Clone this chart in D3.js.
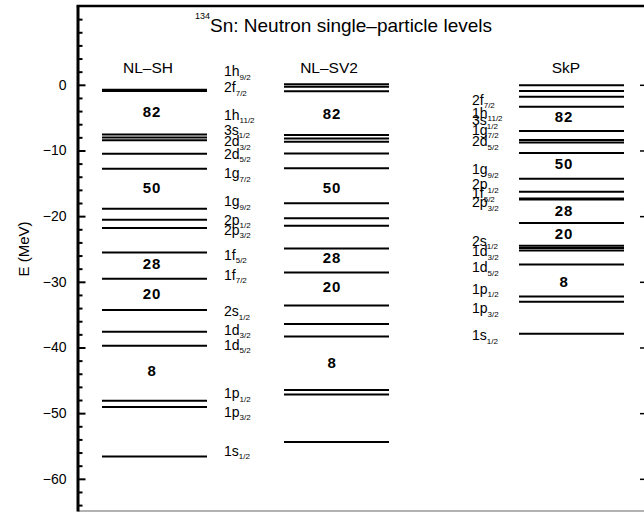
<!DOCTYPE html>
<html>
<head>
<meta charset="utf-8">
<script src="https://cdn.jsdelivr.net/npm/d3@7"></script>
<style>
  body { margin: 0; background: #fff; }
  svg { display: block; }
  text { font-family: "Liberation Sans", Arial, Helvetica, sans-serif; fill: #000; }
</style>
</head>
<body>
<svg id="chart" width="644" height="512"></svg>
<script>
// ---- data: neutron single-particle energies (MeV) of 134Sn ----
const models = ["NL–SH", "NL–SV2", "SkP"];
const magicNumbers = ["82", "50", "28", "20", "8"];
const majorTicks = [0, -10, -20, -30, -40, -50, -60];

const nlshOrbits = ["1h9/2","2f7/2","1h11/2","3s1/2","2d3/2","2d5/2","1g7/2","1g9/2","2p1/2","2p3/2","1f5/2","1f7/2","2s1/2","1d3/2","1d5/2","1p1/2","1p3/2","1s1/2"];
const nlshEnergies = [-0.75,-0.95,-7.55,-8.01,-8.44,-10.51,-12.79,-18.88,-20.56,-21.82,-25.54,-29.54,-34.31,-37.61,-39.74,-48.12,-49.08,-56.60];

const nlsv2Orbits = ["1h9/2","3p3/2","2f7/2","1h11/2","3s1/2","2d3/2","2d5/2","1g7/2","1g9/2","2p1/2","2p3/2","1f5/2","1f7/2","2s1/2","1d3/2","1d5/2","1p1/2","1p3/2","1s1/2"];
const nlsv2Energies = [0.09,-0.29,-0.99,-7.64,-8.16,-8.68,-10.46,-12.71,-18.04,-20.33,-21.47,-24.94,-28.58,-33.61,-36.44,-38.33,-46.49,-47.16,-54.41];

const skpOrbits = ["1h9/2","3p1/2","3p3/2","2f7/2","1h11/2","3s1/2","1g7/2","2d5/2","1g9/2","2p1/2","1f5/2","2p3/2","1f7/2","2s1/2","2d3/2","1d3/2","1d5/2","1p1/2","1p3/2","1s1/2"];
const skpEnergies = [-0.05,-0.96,-1.83,-3.35,-7.05,-8.42,-8.79,-10.40,-14.31,-16.29,-17.30,-17.45,-21.06,-24.52,-24.87,-25.23,-27.36,-32.24,-33.04,-37.92];

// energies at which the shell-gap numbers are written
const nlshGapE  = [-4.20, -15.73, -27.25, -31.82, -43.64];
const nlsv2GapE = [-4.52, -15.73, -26.39, -30.80, -42.40];
const skpGapE   = [-4.92, -12.03, -19.29, -22.69, -30.10];

// orbital name tags (name, energy where the tag is written)
const leftTagNames = ["1h9/2","2f7/2","1h11/2","3s1/2","2d3/2","2d5/2","1g7/2","1g9/2","2p1/2","2p3/2","1f5/2","1f7/2","2s1/2","1d3/2","1d5/2","1p1/2","1p3/2","1s1/2"];
const leftTagE     = [2.03,-0.35,-4.57,-6.85,-8.63,-10.51,-13.45,-17.77,-20.56,-22.08,-25.89,-28.93,-34.52,-37.31,-39.59,-46.95,-49.75,-55.69];
const skpTagNames  = ["2f7/2","1h11/2","3s1/2","1g7/2","2d5/2","1g9/2","2p1/2","1f5/2","2p3/2","2s1/2","1d3/2","1d5/2","1p1/2","1p3/2","1s1/2"];
const skpTagE      = [-2.28,-4.26,-5.41,-6.85,-8.60,-12.85,-15.15,-16.49,-17.89,-23.75,-25.35,-27.79,-31.06,-34.03,-38.15];

// ---- layout ----
const svg = d3.select("#chart");
const axisX = 77.5, rightX = 648;
const y = d3.scaleLinear().domain([-64.9, 12]).range([511, 6]);

const colLeft = d3.scaleOrdinal().domain(models).range([102, 284, 519]);
const colWidth = 105;
const headerX = d3.scaleOrdinal().domain(models).range([148, 329, 566]);
const gapX = d3.scaleOrdinal().domain(models).range([152, 332, 564]);

const sets = [
  { model: "NL–SH",  orbits: nlshOrbits,  energies: nlshEnergies,  gaps: nlshGapE },
  { model: "NL–SV2", orbits: nlsv2Orbits, energies: nlsv2Energies, gaps: nlsv2GapE },
  { model: "SkP",    orbits: skpOrbits,   energies: skpEnergies,   gaps: skpGapE }
];

// frame
svg.append("line").attr("x1", axisX - 1).attr("x2", 660).attr("y1", 6).attr("y2", 6)
  .attr("stroke", "#000").attr("stroke-width", 2.5);
svg.append("line").attr("x1", axisX).attr("x2", 660).attr("y1", 511).attr("y2", 511)
  .attr("stroke", "#666").attr("stroke-width", 1.2);

// minor ticks every 2 MeV
const minorTicks = d3.range(-64, 11, 2).filter(v => !majorTicks.includes(v));
const leftMinor = svg.append("g").attr("transform", `translate(${axisX},0)`)
  .call(d3.axisLeft(y).tickValues(minorTicks).tickSizeInner(-5).tickSizeOuter(0).tickFormat(""));
leftMinor.select(".domain").remove();
leftMinor.selectAll("line").attr("stroke-width", 2);

const leftMajor = svg.append("g").attr("transform", `translate(${axisX},0)`)
  .call(d3.axisLeft(y).tickValues(majorTicks).tickSizeInner(-8).tickSizeOuter(0).tickPadding(11));
leftMajor.select(".domain").attr("stroke-width", 3);
leftMajor.selectAll("line").attr("stroke-width", 2);
leftMajor.selectAll("text").attr("font-size", 14).attr("font-family", '"Liberation Sans", Arial, sans-serif');

const rightMajor = svg.append("g").attr("transform", `translate(${rightX},0)`)
  .call(d3.axisRight(y).tickValues(majorTicks).tickSizeInner(-8).tickSizeOuter(0).tickFormat(""));
rightMajor.selectAll("line").attr("stroke-width", 1.5);

// axis title
svg.append("text")
  .attr("transform", "translate(28.5,249) rotate(-90)")
  .attr("text-anchor", "middle").attr("font-size", 15)
  .text("E (MeV)");

// chart title
const title = svg.append("text").attr("x", 195).attr("y", 18.5);
title.append("tspan").attr("font-size", 9).text("134");
title.append("tspan").attr("font-size", 19).attr("dy", 13.8).text("Sn: Neutron single–particle levels");

// model headers
svg.append("g").selectAll("text").data(models).join("text")
  .attr("x", d => headerX(d)).attr("y", 73)
  .attr("text-anchor", "middle").attr("font-size", 15.5)
  .text(d => d);

// level lines
sets.forEach(s => {
  svg.append("g").selectAll("line").data(d3.zip(s.orbits, s.energies)).join("line")
    .attr("x1", colLeft(s.model)).attr("x2", colLeft(s.model) + colWidth)
    .attr("y1", d => y(d[1])).attr("y2", d => y(d[1]))
    .attr("stroke", "#000").attr("stroke-width", 2);

  svg.append("g").selectAll("text").data(d3.zip(magicNumbers, s.gaps)).join("text")
    .attr("x", gapX(s.model)).attr("y", d => y(d[1]) + 5)
    .attr("text-anchor", "middle").attr("font-size", 15).attr("font-weight", "bold")
    .attr("letter-spacing", 0.8)
    .text(d => d[0]);
});

// orbital tags: "1h" + subscript "9/2"
function drawTags(names, energies, x) {
  const t = svg.append("g").selectAll("text").data(d3.zip(names, energies)).join("text")
    .attr("x", x).attr("y", d => y(d[1]) + 5).attr("font-size", 14);
  t.append("tspan").text(d => d[0].match(/^(\d[a-z])(.*)$/)[1]);
  t.append("tspan").attr("font-size", 8).attr("dy", 3.5)
    .text(d => d[0].match(/^(\d[a-z])(.*)$/)[2]);
}
drawTags(leftTagNames, leftTagE, 224);
drawTags(skpTagNames, skpTagE, 472);
</script>
</body>
</html>
